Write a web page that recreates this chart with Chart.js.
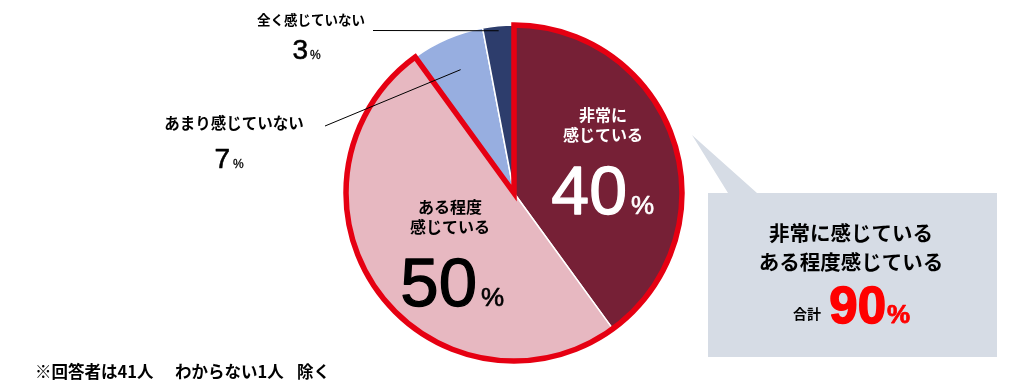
<!DOCTYPE html>
<html><head><meta charset="utf-8">
<script src="https://cdn.jsdelivr.net/npm/chart.js@4"></script>
<style>html,body{margin:0;padding:0;background:#fff}#wrap{width:1032px;height:382px;position:relative}</style>
</head><body><div id="wrap"><canvas id="c" width="1032" height="382"></canvas></div>
<script>
const categories = ['非常に感じている','ある程度感じている','あまり感じていない','全く感じていない'];
const values = [40, 50, 7, 3];
const sliceColors = ['#762036','#E7B8C1','#97AEE0','#2D3D6C'];
const innerLabelLines = [['非常に','感じている'],['ある程度','感じている']];
const totalTitle = ['非常に感じている','ある程度感じている'];
const totalLabel = '合計';
const totalValue = values[0] + values[1];
const footnoteParts = ['※回答者は41人', 'わからない1人', '除く'];

const JP = '"Noto Sans CJK JP", "Noto Sans", sans-serif';
const NUM = '"Liberation Sans", Arial, sans-serif';

function txt(ctx, s, x, y, font, color, align, base){
  ctx.font = font; ctx.fillStyle = color; ctx.textAlign = align || 'center'; ctx.textBaseline = base || 'middle';
  ctx.fillText(s, x, y);
}
function pct(ctx, v, xRight, baseY, bigFont, smallFont, color, gap, thick){
  ctx.textBaseline = 'alphabetic';
  ctx.font = bigFont; ctx.fillStyle = color; ctx.textAlign = 'right';
  ctx.fillText(String(v), xRight, baseY);
  if (thick) { ctx.lineWidth = thick; ctx.strokeStyle = color; ctx.lineJoin = 'round'; ctx.strokeText(String(v), xRight, baseY); }
  ctx.font = smallFont; ctx.textAlign = 'left';
  ctx.fillText('%', xRight + gap, baseY);
  if (thick) { ctx.lineWidth = thick * 0.5; ctx.strokeText('%', xRight + gap, baseY); }
}

const annot = {
  id: 'annot',
  afterDatasetsDraw(chart){
    const ctx = chart.ctx;
    const arcs = chart.getDatasetMeta(0).data;
    const a0 = arcs[0], a1 = arcs[1], a2 = arcs[2], a3 = arcs[3];
    const cx = a0.x, cy = a0.y, r = a0.outerRadius;
    ctx.save();
    // red outline around first two slices
    ctx.beginPath();
    ctx.moveTo(cx, cy);
    ctx.arc(cx, cy, r, a0.startAngle, a1.endAngle);
    ctx.closePath();
    ctx.lineWidth = 5.5; ctx.strokeStyle = '#E60012'; ctx.lineJoin = 'miter'; ctx.miterLimit = 10;
    ctx.stroke();

    // inner labels
    txt(ctx, innerLabelLines[0][0], cx + 89, cy - 78, 'bold 16px ' + JP, '#fff');
    txt(ctx, innerLabelLines[0][1], cx + 89, cy - 58, 'bold 16px ' + JP, '#fff');
    pct(ctx, values[0], cx + 113, cy + 21, '68px ' + NUM, '26px ' + NUM, '#fff', 4, 1.3);
    txt(ctx, innerLabelLines[1][0], cx - 64, cy + 14, 'bold 16px ' + JP, '#000');
    txt(ctx, innerLabelLines[1][1], cx - 64, cy + 34, 'bold 16px ' + JP, '#000');
    pct(ctx, values[1], cx - 37, cy + 113, '69px ' + NUM, '26px ' + NUM, '#000', 4, 1.3);

    // leader lines
    ctx.strokeStyle = '#000'; ctx.lineWidth = 1;
    const m3 = (a3.startAngle + a3.endAngle) / 2;
    ctx.beginPath(); ctx.moveTo(373, 30.5); ctx.lineTo(cx + Math.cos(m3) * r * 0.97, cy + Math.sin(m3) * r * 0.97); ctx.stroke();
    const m2 = (a2.startAngle + a2.endAngle) / 2;
    ctx.beginPath(); ctx.moveTo(325, 126); ctx.lineTo(cx + Math.cos(m2) * r * 0.8, cy + Math.sin(m2) * r * 0.8); ctx.stroke();

    // outer labels
    txt(ctx, categories[3], 311, 20, 'bold 13.5px ' + JP, '#000');
    pct(ctx, values[3], 308, 59, '28px ' + NUM, '12px ' + NUM, '#000', 2, 0.6);
    txt(ctx, categories[2], 234, 123, 'bold 15.5px ' + JP, '#000');
    pct(ctx, values[2], 230, 168, '28px ' + NUM, '12px ' + NUM, '#000', 3, 0.6);

    // callout box
    ctx.fillStyle = '#D6DCE5';
    ctx.beginPath();
    ctx.moveTo(708, 193); ctx.lineTo(728, 193); ctx.lineTo(692, 135); ctx.lineTo(757, 193);
    ctx.lineTo(997, 193); ctx.lineTo(997, 357); ctx.lineTo(708, 357); ctx.closePath();
    ctx.fill();
    txt(ctx, totalTitle[0], 851, 233, 'bold 20.5px ' + JP, '#000');
    txt(ctx, totalTitle[1], 851, 262, 'bold 20.5px ' + JP, '#000');
    txt(ctx, totalLabel, 807, 314, 'bold 14px ' + JP, '#000');
    pct(ctx, totalValue, 886, 323, 'bold 51px ' + NUM, 'bold 26px ' + NUM, '#FF0000', 1, 1.5);

    // footnote
    txt(ctx, footnoteParts[0], 35, 372, 'bold 16.5px ' + JP, '#000', 'left');
    txt(ctx, footnoteParts[1], 175, 372, 'bold 16.5px ' + JP, '#000', 'left');
    txt(ctx, footnoteParts[2], 297, 372, 'bold 16.5px ' + JP, '#000', 'left');
    ctx.restore();
  }
};

new Chart(document.getElementById('c'), {
  type: 'pie',
  data: {
    labels: categories,
    datasets: [{ data: values, backgroundColor: sliceColors, borderColor: '#fff', borderWidth: 1.5, hoverOffset: 0, radius: 168 }]
  },
  options: {
    responsive: false,
    animation: false,
    events: [],
    layout: { padding: { left: 346, right: 350, top: 25, bottom: 21 } },
    plugins: { legend: { display: false }, tooltip: { enabled: false }, title: { display: false } }
  },
  plugins: [annot]
});
</script>
</body></html>
